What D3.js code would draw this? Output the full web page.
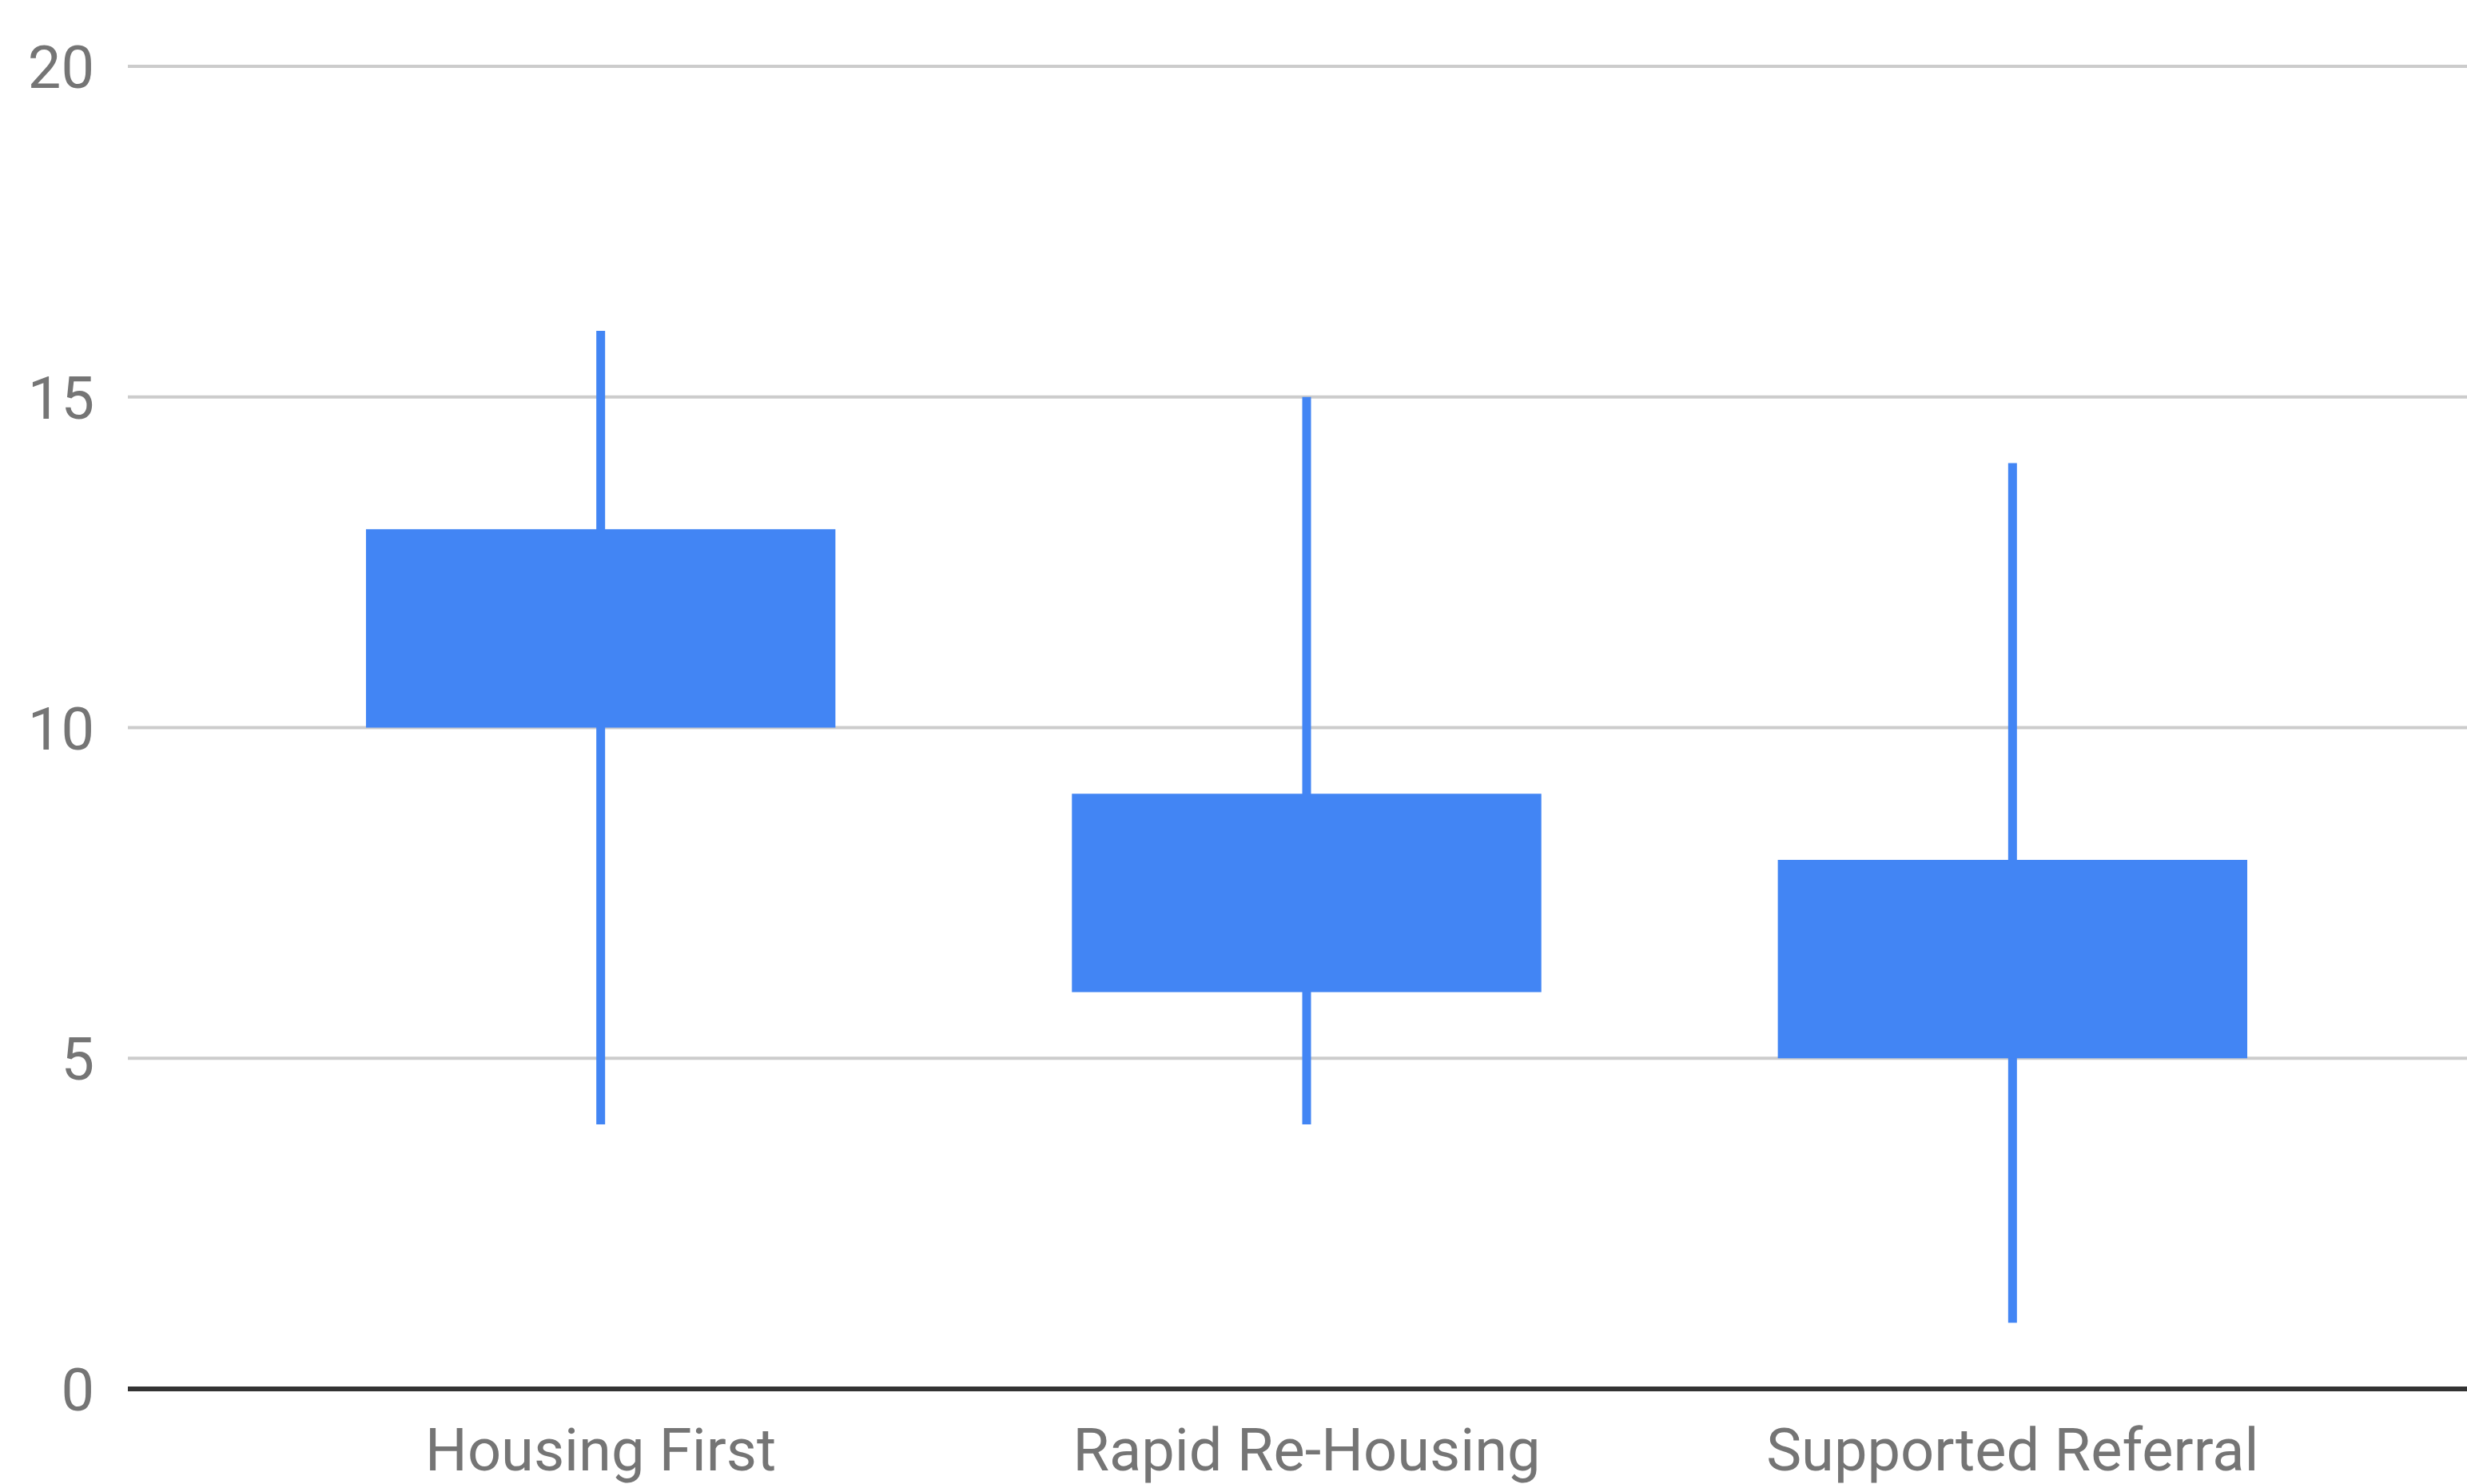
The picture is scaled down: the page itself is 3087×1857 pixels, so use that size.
<!DOCTYPE html>
<html>
<head>
<meta charset="utf-8">
<script src="https://cdn.jsdelivr.net/npm/d3@7"></script>
<style>
  html, body { margin: 0; padding: 0; background: #ffffff; }
  svg { display: block; }
  text { font-family: Roboto, "Noto Sans", sans-serif; }
</style>
</head>
<body>
<svg id="chart" width="3087" height="1857"></svg>
<script>
// Programme types and their low / open / close / high values
const categories = ["Housing First", "Rapid Re-Housing", "Supported Referral"];
const lowValues   = [4, 4, 1];
const openValues  = [10, 6, 5];
const closeValues = [13, 9, 8];
const highValues  = [16, 15, 14];
const yTicks = [0, 5, 10, 15, 20];

const rows = categories.map((c, i) => ({
  cat: c, low: lowValues[i], open: openValues[i], close: closeValues[i], high: highValues[i]
}));

const W = 3087, H = 1857;
const plotLeft = 160, plotRight = W;
const svg = d3.select("#chart");

const y = d3.scaleLinear().domain([0, 20]).range([1738, 83]);
const x = d3.scaleBand().domain(categories).range([310, 2960]).paddingInner(0).paddingOuter(0);
const boxW = x.bandwidth() * 0.665;
const blue = "#4285f4";

// Horizontal gridlines
svg.append("g")
  .selectAll("line")
  .data(yTicks.filter(t => t !== 0))
  .join("line")
  .attr("x1", plotLeft).attr("x2", plotRight)
  .attr("y1", d => y(d)).attr("y2", d => y(d))
  .attr("stroke", "#cccccc").attr("stroke-width", 4);

// Y-axis labels
const yAxis = d3.axisLeft(y).tickValues(yTicks).tickSize(0).tickPadding(0).tickFormat(d3.format("d"));
const yG = svg.append("g").attr("transform", `translate(118,0)`).call(yAxis);
yG.select(".domain").remove();
yG.selectAll("text")
  .attr("fill", "#757575")
  .attr("font-size", 74)
  .attr("dy", "0.36em")
  .attr("text-anchor", "end");

// Whiskers (low to high)
svg.append("g")
  .selectAll("line")
  .data(rows)
  .join("line")
  .attr("x1", d => x(d.cat) + x.bandwidth() / 2)
  .attr("x2", d => x(d.cat) + x.bandwidth() / 2)
  .attr("y1", d => y(d.high))
  .attr("y2", d => y(d.low))
  .attr("stroke", blue).attr("stroke-width", 11);

// Boxes (open to close)
svg.append("g")
  .selectAll("rect")
  .data(rows)
  .join("rect")
  .attr("x", d => x(d.cat) + (x.bandwidth() - boxW) / 2)
  .attr("width", boxW)
  .attr("y", d => y(Math.max(d.open, d.close)))
  .attr("height", d => Math.abs(y(d.open) - y(d.close)))
  .attr("fill", blue);

// Baseline at zero
svg.append("line")
  .attr("x1", plotLeft).attr("x2", plotRight)
  .attr("y1", y(0)).attr("y2", y(0))
  .attr("stroke", "#333333").attr("stroke-width", 6);

// Category labels
const xAxis = d3.axisBottom(x).tickSize(0).tickPadding(0);
const xG = svg.append("g").attr("transform", `translate(0,1840)`).call(xAxis);
xG.select(".domain").remove();
xG.selectAll("text")
  .attr("fill", "#757575")
  .attr("font-size", 74)
  .attr("dy", 0)
  .attr("text-anchor", "middle");
</script>
</body>
</html>
